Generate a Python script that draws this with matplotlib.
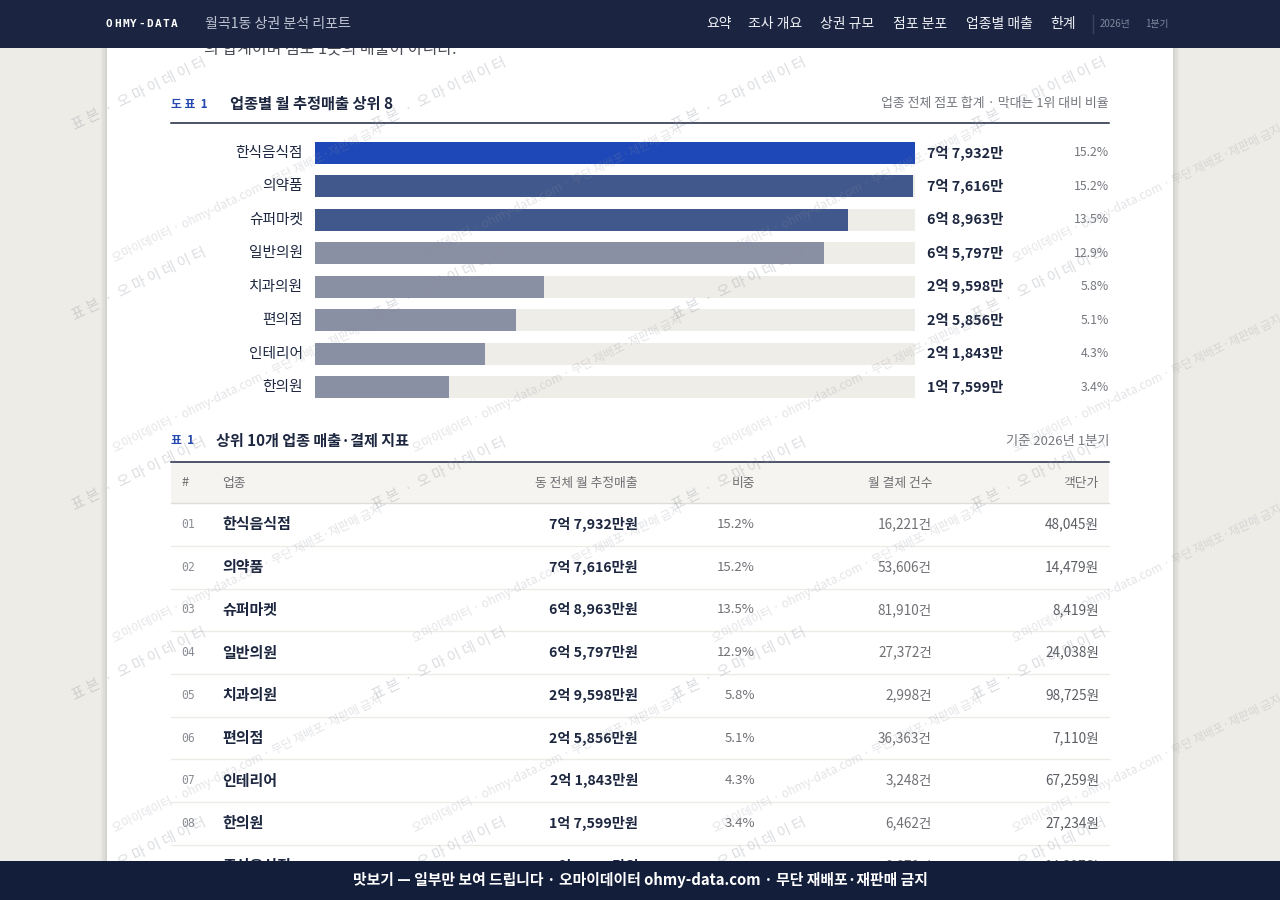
import matplotlib
matplotlib.use('Agg')
import matplotlib.pyplot as plt
from matplotlib.patches import Rectangle

plt.rcParams['font.family'] = ['Noto Sans CJK KR', 'DejaVu Sans']

# data
chart_names = ['한식음식점', '의약품', '슈퍼마켓', '일반의원', '치과의원', '편의점', '인테리어', '한의원']
chart_values = ['7억 7,932만', '7억 7,616만', '6억 8,963만', '6억 5,797만',
                '2억 9,598만', '2억 5,856만', '2억 1,843만', '1억 7,599만']
chart_share = [15.2, 15.15, 13.5, 12.9, 5.8, 5.1, 4.3, 3.4]
chart_share_labels = ['15.2%', '15.2%', '13.5%', '12.9%', '5.8%', '5.1%', '4.3%', '3.4%']

table_rank = ['01', '02', '03', '04', '05', '06', '07', '08', '09']
table_names = ['한식음식점', '의약품', '슈퍼마켓', '일반의원', '치과의원', '편의점', '인테리어', '한의원', '중식음식점']
table_revenue = ['7억 7,932만원', '7억 7,616만원', '6억 8,963만원', '6억 5,797만원', '2억 9,598만원',
                 '2억 5,856만원', '2억 1,843만원', '1억 7,599만원', '1억 4,210만원']
table_share = ['15.2%', '15.2%', '13.5%', '12.9%', '5.8%', '5.1%', '4.3%', '3.4%', '2.7%']
table_count = ['16,221건', '53,606건', '81,910건', '27,372건', '2,998건', '36,363건', '3,248건', '6,462건', '9,870건']
table_price = ['48,045원', '14,479원', '8,419원', '24,038원', '98,725원', '7,110원', '67,259원', '27,234원', '14,397원']
table_cols = ['#', '업종', '동 전체 월 추정매출', '비중', '월 결제 건수', '객단가']

nav_items = ['요약', '조사 개요', '상권 규모', '점포 분포', '업종별 매출', '한계']

# colors
NAVY = '#1b2541'
FOOT = '#131e3a'
INK = '#1d2740'
GRAY = '#74777e'
BLUE = '#2448b0'
bar_colors = ['#1e48b8', '#41588d', '#41588d'] + ['#8990a4'] * 5
TRACK = '#efede8'

fig = plt.figure(figsize=(12.8, 9), dpi=100)
fig.patch.set_facecolor('#eeece7')

ax = fig.add_axes([0, 0, 1, 1], zorder=0)
ax.set_xlim(0, 1280)
ax.set_ylim(900, 0)
ax.axis('off')

# card with soft shadow
for i, a in enumerate([0.03, 0.03, 0.04]):
    ax.add_patch(Rectangle((107 - 6 + i * 2, 0), 1066 + 12 - i * 4, 900, color='#000000', alpha=a, lw=0))
ax.add_patch(Rectangle((107, 0), 1066, 900, color='white', lw=0))

# text cut by the header
ax.text(204, 53, '의 합계이며 점포 1곳의 매출이 아니다.', fontsize=11.5, color='#4a4d55', va='baseline')

# chart title
ax.text(171, 104, '도 표  1', fontsize=8.5, color=BLUE, fontweight='bold', va='center')
ax.text(230, 104, '업종별 월 추정매출 상위 8', fontsize=11, color=INK, fontweight='bold', va='center')
ax.text(1109, 104, '업종 전체 점포 합계 · 막대는 1위 대비 비율', fontsize=9.3, color=GRAY, ha='right', va='center')
ax.plot([171, 1109], [123, 123], color=NAVY, lw=1.1)

# bar chart
row0, step = 153, 33.43
bax = fig.add_axes([315 / 1280, 1 - (row0 + 7.5 * step) / 900, 600 / 1280, 8 * step / 900], zorder=1)
bax.patch.set_alpha(0)
ypos = list(range(len(chart_names)))
bax.barh(ypos, [max(chart_share)] * len(ypos), height=0.66, color=TRACK, lw=0)
bax.barh(ypos, chart_share, height=0.66, color=bar_colors, lw=0)
bax.set_xlim(0, max(chart_share))
bax.set_ylim(7.5, -0.5)
bax.axis('off')

for i, name in enumerate(chart_names):
    y = row0 + i * step
    ax.text(303, y, name, fontsize=10.6, color=INK, ha='right', va='center', fontweight='medium')
    ax.text(927, y, chart_values[i], fontsize=10.3, color=INK, ha='left', va='center', fontweight='bold')
    ax.text(1109, y, chart_share_labels[i], fontsize=8.8, color=GRAY, ha='right', va='center')

# table title
ax.text(171, 441, '표  1', fontsize=8.5, color=BLUE, fontweight='bold', va='center')
ax.text(216, 441, '상위 10개 업종 매출·결제 지표', fontsize=10.9, color=INK, fontweight='bold', va='center')
ax.text(1109, 441, '기준 2026년 1분기', fontsize=9.5, color=GRAY, ha='right', va='center')
ax.plot([171, 1109], [462, 462], color=NAVY, lw=1.1)
ax.add_patch(Rectangle((171, 463), 938, 40, color='#f5f4f0', lw=0))
ax.plot([171, 1109], [503, 503], color='#deddd8', lw=1)

col_x = [181, 222, 638, 755, 932, 1099]
col_ha = ['left', 'left', 'right', 'right', 'right', 'right']
for c, label in enumerate(table_cols):
    ax.text(col_x[c], 483, label, fontsize=9.2, color='#6e6e72', ha=col_ha[c], va='center')

rstep = 42.7
for i in range(len(table_names)):
    y = 524.5 + i * rstep
    ax.text(181, y, table_rank[i], fontsize=8.3, color='#8a8d94', ha='left', va='center', family='DejaVu Sans Mono')
    ax.text(222, y, table_names[i], fontsize=10.8, color=INK, ha='left', va='center', fontweight='bold')
    ax.text(638, y, table_revenue[i], fontsize=10.2, color=INK, ha='right', va='center', fontweight='bold')
    ax.text(755, y, table_share[i], fontsize=9.5, color='#707076', ha='right', va='center')
    ax.text(932, y, table_count[i], fontsize=9.8, color='#707076', ha='right', va='center')
    ax.text(1099, y, table_price[i], fontsize=9.8, color='#5a5d63', ha='right', va='center')
    ax.plot([171, 1109], [y + rstep / 2, y + rstep / 2], color='#ecebe6', lw=1)

# watermarks
wax = fig.add_axes([0, 0, 1, 1], zorder=2)
wax.set_xlim(0, 1280)
wax.set_ylim(900, 0)
wax.axis('off')
wax.patch.set_alpha(0)
for gx in range(4):
    for gy in range(5):
        wax.text(75 + gx * 300, 130 + gy * 190, '표 본  ·  오 마 이 데 이 터', fontsize=10.5,
                 color='#8a8f99', alpha=0.3, rotation=26, rotation_mode='anchor',
                 ha='left', va='baseline', clip_on=True)
        wax.text(115 + gx * 300, 262 + gy * 190, '오마이데이터 · ohmy-data.com · 무단 재배포·재판매 금지',
                 fontsize=8.5, color='#8a8f99', alpha=0.24, rotation=26, rotation_mode='anchor',
                 ha='left', va='baseline', clip_on=True)

# header and footer on top
tax = fig.add_axes([0, 0, 1, 1], zorder=3)
tax.set_xlim(0, 1280)
tax.set_ylim(900, 0)
tax.axis('off')
tax.patch.set_alpha(0)
tax.add_patch(Rectangle((0, 0), 1280, 48, color=NAVY, lw=0))
for k, ch in enumerate('OHMY-DATA'):
    tax.text(106 + k * 8.1, 24, ch, fontsize=8, color='white', fontweight='bold', va='center',
             family='DejaVu Sans Mono')
tax.text(205, 24, '월곡1동 상권 분석 리포트', fontsize=10.1, color='#bfc5d3', va='center')
nav_x = [706, 748, 820, 893, 966, 1050]
for x, item in zip(nav_x, nav_items):
    tax.text(x, 24, item, fontsize=10, color='#eef0f5', va='center', fontweight='medium')
tax.plot([1093, 1093], [15, 33], color='#3b4662', lw=1)
clip = Rectangle((1095, 0), 78, 48, transform=tax.transData)
t1 = tax.text(1100, 24, '2026년', fontsize=7, color='#7f889e', va='center')
t2 = tax.text(1145, 24, '1분기', fontsize=7, color='#7f889e', va='center')
t1.set_clip_path(clip)
t2.set_clip_path(clip)

tax.add_patch(Rectangle((0, 861), 1280, 39, color=FOOT, lw=0))
tax.text(640, 880.5, '맛보기 — 일부만 보여 드립니다 · 오마이데이터 ohmy-data.com · 무단 재배포·재판매 금지',
         fontsize=10.7, color='white', fontweight='bold', ha='center', va='center')

fig.savefig('out.png', dpi=100, facecolor=fig.get_facecolor())
